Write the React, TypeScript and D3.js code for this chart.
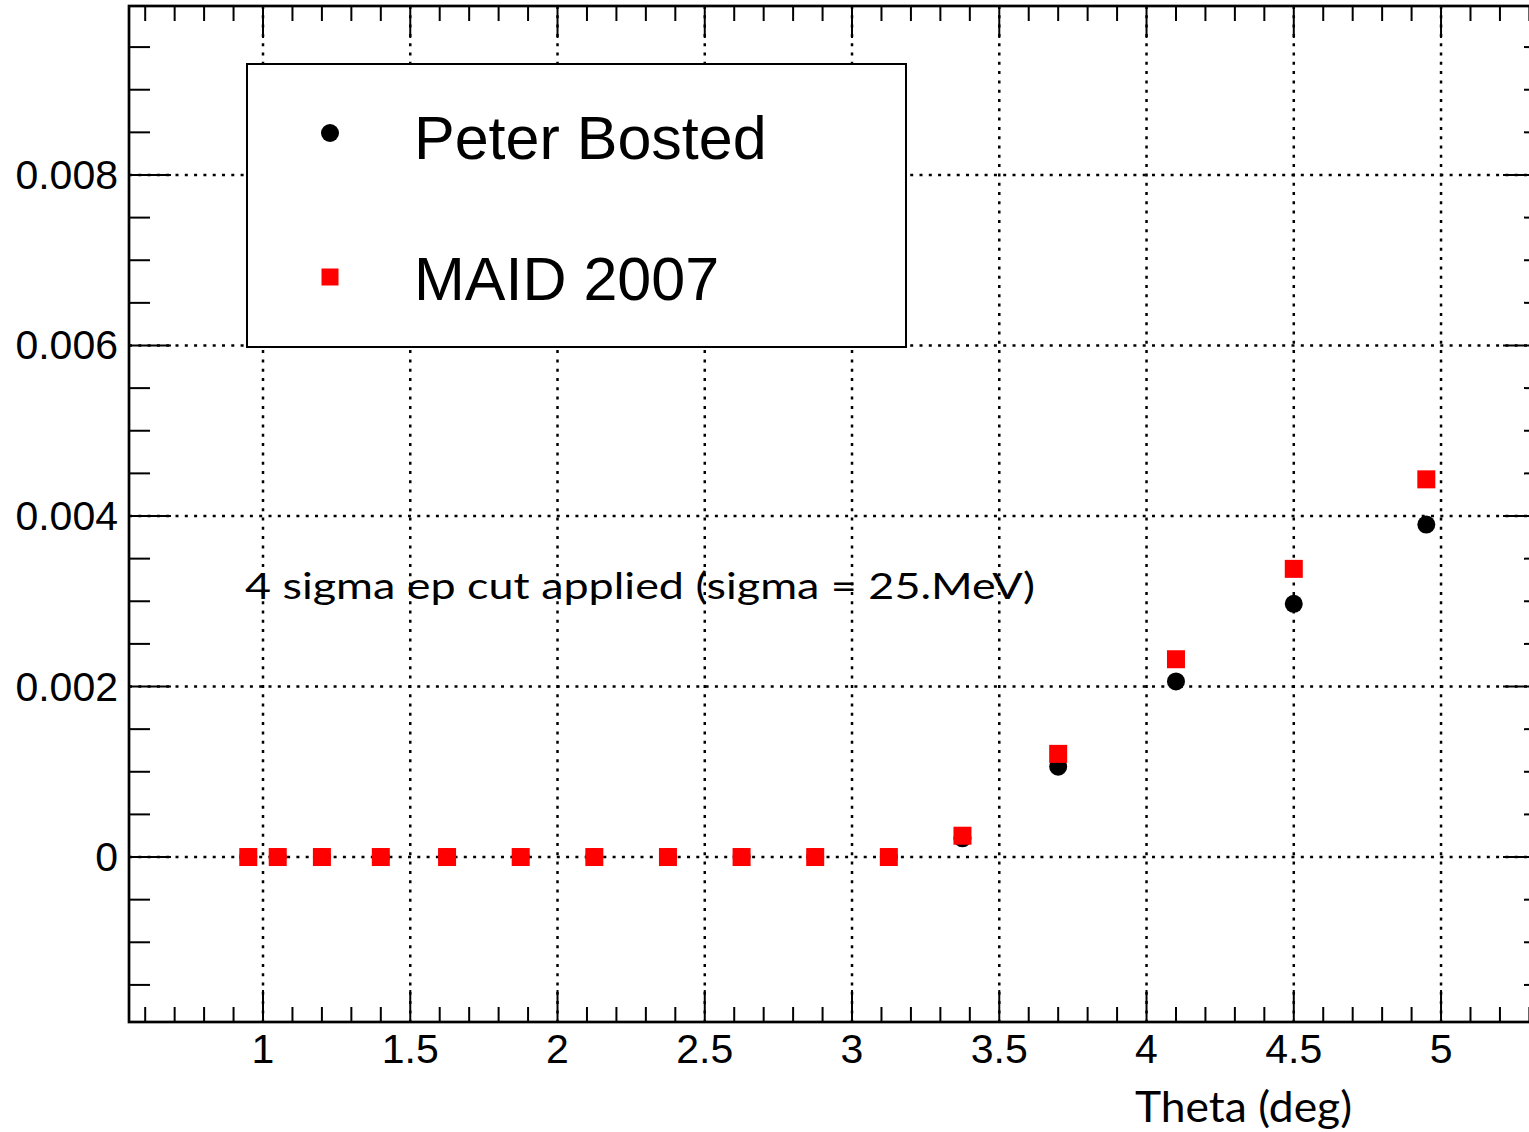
import React from "react";
import * as d3 from "d3";

const theta = [0.95, 1.05, 1.2, 1.4, 1.625, 1.875, 2.125, 2.375, 2.625, 2.875, 3.125, 3.375, 3.7, 4.1, 4.5, 4.95];
const bosted = [0, 0, 0, 0, 0, 0, 0, 0, 0, 0, 0, 0.00022, 0.00106, 0.00206, 0.00297, 0.0039];
const maid = [0, 0, 0, 0, 0, 0, 0, 0, 0, 0, 0, 0.00025, 0.00121, 0.00232, 0.00338, 0.00443];
const xMajor = [1, 1.5, 2, 2.5, 3, 3.5, 4, 4.5, 5];
const xLabels = ["1", "1.5", "2", "2.5", "3", "3.5", "4", "4.5", "5"];
const yMajor = [0, 0.002, 0.004, 0.006, 0.008];
const yLabels = ["0", "0.002", "0.004", "0.006", "0.008"];
const legendNames = ["Peter Bosted", "MAID 2007"];

const W = 1529, H = 1132;
const L = 129, R = 1545, T = 6, B = 1022;

export default function App() {
  const x = d3.scaleLinear().domain([0.545, 5.353]).range([L, R]);
  const y = d3.scaleLinear().domain([-0.001935, 0.009982]).range([B, T]);
  const xMinor = d3.range(6, 54).map((v) => v / 10).filter((v) => v >= 0.545 && v <= 5.353);
  const yMinor = d3.range(-4, 21).map((v) => v * 0.0005).filter((v) => v >= -0.001935 && v <= 0.009982);
  const grid = { stroke: "#000", strokeWidth: 2.5, strokeDasharray: "3 6.3" };
  const tk = { stroke: "#000", strokeWidth: 2 };
  const tickFont = { fontFamily: "'Liberation Sans', Arial, sans-serif", fontSize: 41 };
  return (
    <svg width={W} height={H} style={{ position: "absolute", left: 0, top: 0, background: "#fff" }}>
      <rect x={0} y={0} width={W} height={H} fill="#fff" />
      {xMajor.map((v) => (
        <line key={"gx" + v} x1={x(v)} x2={x(v)} y1={T} y2={B} {...grid} />
      ))}
      {yMajor.map((v) => (
        <line key={"gy" + v} x1={L} x2={R} y1={y(v)} y2={y(v)} {...grid} />
      ))}
      {xMinor.map((v) => {
        const major = xMajor.some((m) => Math.abs(m - v) < 1e-6);
        const len = major ? 32 : 15;
        return (
          <g key={"tx" + v}>
            <line x1={x(v)} x2={x(v)} y1={B} y2={B - len} {...tk} />
            <line x1={x(v)} x2={x(v)} y1={T} y2={T + len} {...tk} />
          </g>
        );
      })}
      {yMinor.map((v) => {
        const major = yMajor.some((m) => Math.abs(m - v) < 1e-9);
        const len = major ? 42 : 21;
        return (
          <g key={"ty" + v}>
            <line x1={L} x2={L + len} y1={y(v)} y2={y(v)} {...tk} />
            <line x1={R} x2={R - len} y1={y(v)} y2={y(v)} {...tk} />
          </g>
        );
      })}
      <rect x={L} y={T} width={R - L} height={B - T} fill="none" stroke="#000" strokeWidth={2.7} />
      {xMajor.map((v, i) => (
        <text key={"lx" + v} x={x(v)} y={1063} textAnchor="middle" {...tickFont}>
          {xLabels[i]}
        </text>
      ))}
      {yMajor.map((v, i) => (
        <text key={"ly" + v} x={118} y={y(v) + 14} textAnchor="end" {...tickFont}>
          {yLabels[i]}
        </text>
      ))}
      <text x={1135} y={1122} fontFamily="Lato, 'Open Sans', sans-serif" fontSize={42} textLength={217} lengthAdjust="spacingAndGlyphs">
        Theta (deg)
      </text>
      <text x={245} y={599} fontFamily="Lato, 'Open Sans', sans-serif" fontSize={37} textLength={790} lengthAdjust="spacingAndGlyphs" style={{ whiteSpace: "pre" }}>
        {"4 sigma ep cut applied (sigma = 25.MeV)"}
      </text>
      <rect x={247} y={64} width={659} height={283} fill="#fff" stroke="#000" strokeWidth={2} />
      <circle cx={330} cy={133} r={9} fill="#000" />
      <rect x={321.5} y={268.5} width={17} height={17} fill="#ff0000" />
      <text x={414} y={159} fontFamily="'Liberation Sans', Arial, sans-serif" fontSize={61}>
        {legendNames[0]}
      </text>
      <text x={414} y={300} fontFamily="'Liberation Sans', Arial, sans-serif" fontSize={61}>
        {legendNames[1]}
      </text>
      {theta.map((t, i) => (
        <circle key={"b" + i} cx={x(t)} cy={y(bosted[i])} r={9} fill="#000" />
      ))}
      {theta.map((t, i) => (
        <rect key={"m" + i} x={x(t) - 9} y={y(maid[i]) - 9} width={18} height={18} fill="#ff0000" />
      ))}
    </svg>
  );
}
